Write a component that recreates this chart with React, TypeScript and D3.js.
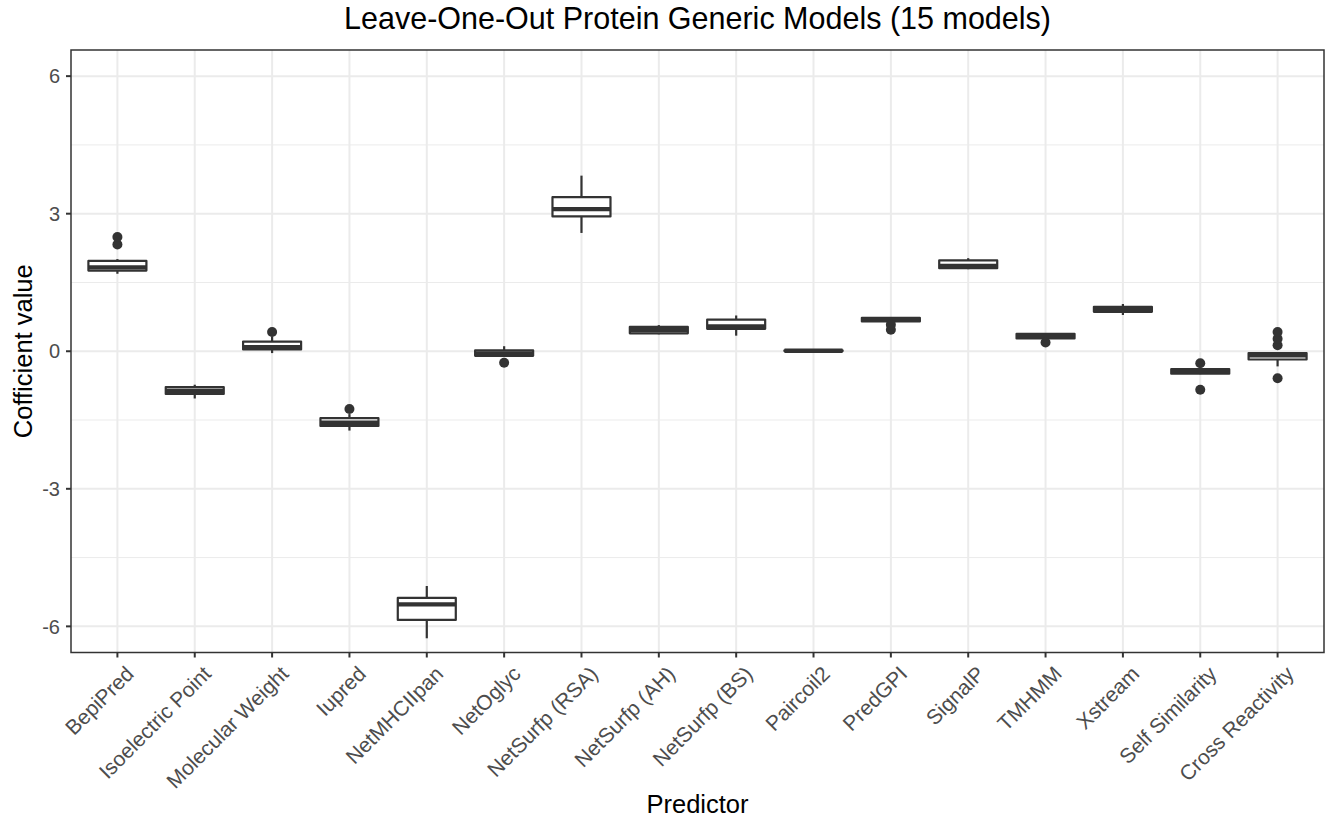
import React from "react";
import * as d3 from "d3";

const categories = [
  "BepiPred", "Isoelectric Point", "Molecular Weight", "Iupred", "NetMHCIIpan",
  "NetOglyc", "NetSurfp (RSA)", "NetSurfp (AH)", "NetSurfp (BS)", "Paircoil2",
  "PredGPI", "SignalP", "TMHMM", "Xstream", "Self Similarity", "Cross Reactivity",
];
const whiskerLow = [1.69, -1.03, -0.04, -1.73, -6.26, -0.11, 2.58, 0.37, 0.34, -0.01, 0.63, 1.79, 0.27, 0.79, -0.50, -0.33];
const q1 = [1.76, -0.93, 0.04, -1.63, -5.86, -0.10, 2.94, 0.39, 0.49, 0.00, 0.65, 1.81, 0.28, 0.86, -0.49, -0.18];
const median = [1.83, -0.86, 0.09, -1.56, -5.52, -0.05, 3.10, 0.46, 0.54, 0.01, 0.69, 1.86, 0.33, 0.92, -0.44, -0.09];
const q3 = [1.97, -0.78, 0.21, -1.46, -5.38, 0.02, 3.36, 0.53, 0.69, 0.02, 0.73, 1.98, 0.38, 0.97, -0.39, -0.04];
const whiskerHigh = [2.01, -0.73, 0.32, -1.37, -5.12, 0.11, 3.83, 0.57, 0.78, 0.03, 0.74, 2.03, 0.39, 1.03, -0.38, -0.02];
const outliers: number[][] = [
  [2.33, 2.49], [], [0.42], [-1.26], [], [-0.25], [], [], [], [],
  [0.47, 0.58], [], [0.19], [], [-0.84, -0.26], [-0.59, 0.13, 0.27, 0.42],
];
const yTicks = [-6, -3, 0, 3, 6];
const yMinor = [-4.5, -1.5, 1.5, 4.5];

const title = "Leave-One-Out Protein Generic Models (15 models)";
const xTitle = "Predictor";
const yTitle = "Cofficient value";

export default function App() {
  const W = 1325, H = 820;
  const left = 71, right = 1324, top = 50, bottom = 652.5;
  const font = "'Liberation Sans', Arial, Helvetica, sans-serif";
  const x = d3.scalePoint<string>().domain(categories).range([left, right]).padding(0.6);
  const y = d3.scaleLinear().domain([-6.57, 6.57]).range([bottom, top]);
  const bw = x.step() * 0.75;
  const dark = "#333333";
  const lw = 2.2;

  return (
    <svg width={W} height={H} style={{ position: "absolute", left: 0, top: 0 }} fontFamily={font}>
      <rect x={0} y={0} width={W} height={H} fill="white" />
      {yMinor.map((v) => (
        <line key={"mn" + v} x1={left} x2={right} y1={y(v)} y2={y(v)} stroke="#EBEBEB" strokeWidth={1} />
      ))}
      {yTicks.map((v) => (
        <line key={"mj" + v} x1={left} x2={right} y1={y(v)} y2={y(v)} stroke="#EBEBEB" strokeWidth={2} />
      ))}
      {categories.map((c) => (
        <line key={"vg" + c} x1={x(c)} x2={x(c)} y1={top} y2={bottom} stroke="#EBEBEB" strokeWidth={2} />
      ))}
      {categories.map((c, i) => {
        const cx = x(c) as number;
        return (
          <g key={"b" + c}>
            <line x1={cx} x2={cx} y1={y(whiskerHigh[i])} y2={y(q3[i])} stroke={dark} strokeWidth={lw} />
            <line x1={cx} x2={cx} y1={y(q1[i])} y2={y(whiskerLow[i])} stroke={dark} strokeWidth={lw} />
            <rect x={cx - bw / 2} y={y(q3[i])} width={bw} height={Math.max(0, y(q1[i]) - y(q3[i]))}
              fill="white" stroke={dark} strokeWidth={lw} strokeLinejoin="round" />
            <line x1={cx - bw / 2} x2={cx + bw / 2} y1={y(median[i])} y2={y(median[i])} stroke={dark} strokeWidth={lw * 2} />
            {outliers[i].map((o, j) => (
              <circle key={j} cx={cx} cy={y(o)} r={5} fill={dark} />
            ))}
          </g>
        );
      })}
      <rect x={left} y={top} width={right - left} height={bottom - top} fill="none" stroke={dark} strokeWidth={1.5} />
      {yTicks.map((v) => (
        <g key={"yt" + v}>
          <line x1={left - 5} x2={left} y1={y(v)} y2={y(v)} stroke={dark} strokeWidth={2} />
          <text x={left - 11} y={y(v)} dy="0.36em" textAnchor="end" fontSize={20} fill="#4D4D4D">{v}</text>
        </g>
      ))}
      {categories.map((c) => {
        const cx = x(c) as number;
        return (
          <g key={"xt" + c}>
            <line x1={cx} x2={cx} y1={bottom} y2={bottom + 5} stroke={dark} strokeWidth={2} />
            <text transform={`translate(${cx + 7},${bottom + 12}) rotate(-45)`} dy="0.72em" textAnchor="end"
              fontSize={21} fill="#4D4D4D">{c}</text>
          </g>
        );
      })}
      <text x={(left + right) / 2} y={29} textAnchor="middle" fontSize={30.5} fill="black">{title}</text>
      <text x={(left + right) / 2} y={813} textAnchor="middle" fontSize={25.5} fill="black">{xTitle}</text>
      <text transform={`translate(32,${(top + bottom) / 2}) rotate(-90)`} textAnchor="middle" fontSize={25.5} fill="black">{yTitle}</text>
    </svg>
  );
}
